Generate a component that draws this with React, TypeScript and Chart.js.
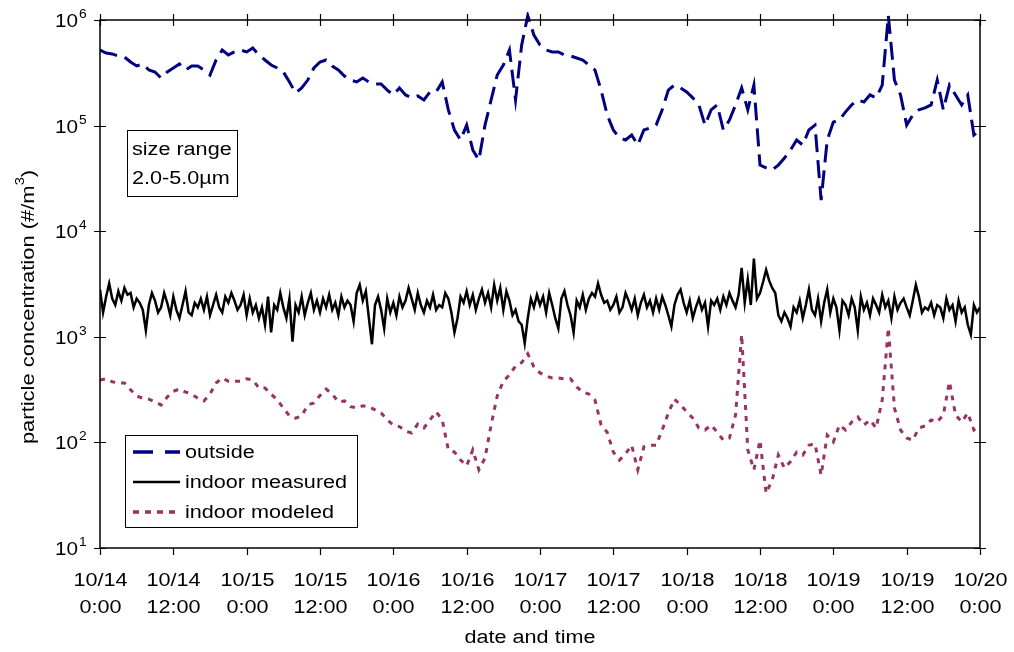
import React, { useEffect, useRef } from "react";
import { Chart, registerables } from "chart.js";

Chart.register(...registerables);

// hourly outside concentration (#/m3), 10/14 0:00 .. 10/20 0:00
const outside: number[] = [
  520000, 487000, 477000, 456000, 446000, 400000, 367000, 383000, 336000, 322000, 282000, 322000,
  351000, 383000, 336000, 367000, 367000, 336000, 301000, 418000, 520000, 467000, 498000, 520000,
  498000, 543000, 467000, 418000, 375000, 351000, 322000, 259000, 204000, 227000, 270000, 351000,
  400000, 418000, 367000, 336000, 295000, 270000, 259000, 282000, 259000, 248000, 248000, 217000,
  195000, 227000, 195000, 183000, 191000, 175000, 208000, 208000, 259000, 141000, 90800, 73100,
  101000, 58800, 47200, 101000, 175000, 301000, 375000, 520000, 175000, 580000, 1100000, 721000,
  580000, 520000, 498000, 498000, 467000, 456000, 437000, 418000, 375000, 336000, 217000, 126000,
  90800, 76300, 73100, 81500, 65500, 90800, 94900, 101000, 141000, 217000, 242000, 227000,
  208000, 183000, 157000, 101000, 141000, 157000, 90800, 113000, 157000, 227000, 141000, 242000,
  42300, 39700, 38000, 42300, 49300, 58800, 73100, 65500, 90800, 101000, 19700, 73100,
  108000, 113000, 135000, 157000, 175000, 167000, 195000, 183000, 242000, 1100000, 270000, 195000,
  101000, 126000, 141000, 147000, 157000, 270000, 141000, 242000, 195000, 157000, 195000, 81500,
  90800,
];

// half-hourly indoor measured concentration (#/m3)
const indoorMeasured: number[] = [
  2800, 1700, 2400, 3200, 2300, 2000, 2700, 2200, 2900, 2500, 2600, 1900, 2300, 2100, 1800, 1150, 2000, 2600, 2200, 1700, 1900, 2600, 2100, 1600,
  2400, 1800, 1500, 2000, 2700, 1700, 1600, 2100, 1900, 2300, 1800, 2400, 1600, 2000, 2500, 1900, 1700, 2400, 2100, 2600, 2200, 1800, 2000, 2500,
  1600, 2300, 1700, 2000, 1500, 1900, 1300, 2400, 1100, 2000, 1800, 2600, 1900, 1500, 2300, 900, 2000, 1700, 2400, 1600, 2100, 2600, 1800, 2200,
  1700, 2300, 1900, 2500, 1800, 2100, 1600, 2400, 1900, 2200, 2000, 1400, 2600, 3100, 2200, 2700, 1500, 850, 2000, 2400, 1800, 1200, 2300, 1700,
  2100, 1600, 2400, 1900, 2200, 2900, 2300, 1800, 2600, 2000, 1700, 2200, 1900, 2500, 1800, 2000, 1900, 2600, 2300, 1700, 1100, 1500, 2400, 2100,
  2700, 2000, 2500, 1800, 2300, 2800, 2100, 2600, 1900, 3100, 2200, 2900, 1800, 2700, 2200, 1600, 1800, 1400, 1300, 870, 1500, 2300, 1900, 2500,
  2000, 2400, 1700, 2600, 2000, 1500, 1200, 2300, 2700, 2000, 1600, 1100, 2200, 1900, 2500, 1800, 2300, 2600, 2400, 3200, 2500, 2100, 2200, 1800,
  2000, 2400, 1700, 1900, 2600, 2200, 1800, 2300, 1600, 2100, 2500, 1900, 2200, 1700, 2300, 1800, 2400, 2000, 1600, 1250, 2000, 2500, 2800, 2100,
  1700, 2200, 1500, 1900, 2300, 1800, 2100, 1250, 2200, 2000, 2300, 1800, 2400, 2000, 2600, 2200, 1900, 2500, 4500, 2100, 3500, 2000, 5500, 2300,
  2600, 3300, 4300, 3400, 2900, 2600, 1600, 1400, 1700, 1500, 1250, 1900, 1700, 2200, 1500, 2000, 2800, 1800, 1600, 2300, 1400, 2100, 2800, 1700,
  2300, 1900, 1150, 2200, 2000, 1600, 2300, 1900, 1150, 2400, 1800, 2100, 1600, 2300, 2000, 1700, 2500, 1900, 2200, 1500, 2400, 1800, 2100, 2300,
  1900, 1600, 2200, 3100, 2400, 1700, 1900, 1800, 2100, 1600, 2000, 1900, 1500, 2300, 1800, 2000, 1400, 2200, 1700, 1900, 1300, 1050, 2000, 1700,
  1900,
];

// hourly indoor modeled concentration (#/m3)
const indoorModeled: number[] = [
  390, 400, 375, 365, 365, 315, 275, 262, 257, 242, 226, 269,
  305, 320, 300, 287, 262, 247, 287, 365, 407, 380, 380, 380,
  400, 390, 327, 327, 287, 252, 212, 178, 170, 178, 226, 236,
  278, 320, 287, 242, 247, 218, 212, 222, 218, 203, 190, 163,
  146, 141, 128, 123, 149, 137, 163, 195, 163, 85, 81, 68,
  60, 85, 55, 71, 146, 275, 380, 435, 529, 570, 690, 520,
  455, 425, 407, 407, 400, 400, 335, 300, 287, 252, 146, 125,
  81, 68, 78, 94, 55, 91, 94, 94, 131, 190, 257, 226,
  195, 170, 137, 131, 146, 125, 105, 110, 182, 1050, 85, 55,
  105, 33, 44, 76, 57, 66, 81, 76, 94, 97, 49, 117,
  101, 146, 131, 156, 174, 146, 163, 137, 252, 1211, 212, 131,
  110, 105, 137, 143, 163, 156, 182, 375, 182, 156, 190, 131,
  146,
];

const seriesNames: string[] = ["outside", "indoor measured", "indoor modeled"];
const xTickHours: number[] = [0, 12, 24, 36, 48, 60, 72, 84, 96, 108, 120, 132, 144];
const xTickLabels: string[][] = [
  ["10/14", "0:00"], ["10/14", "12:00"], ["10/15", "0:00"], ["10/15", "12:00"],
  ["10/16", "0:00"], ["10/16", "12:00"], ["10/17", "0:00"], ["10/17", "12:00"],
  ["10/18", "0:00"], ["10/18", "12:00"], ["10/19", "0:00"], ["10/19", "12:00"],
  ["10/20", "0:00"],
];
const yTickExponents: number[] = [1, 2, 3, 4, 5, 6];
const sizeRangeLines: string[] = ["size range", "2.0-5.0\u00b5m"];

const FONT = "'Liberation Sans', Arial, sans-serif";
const NAVY = "#000080";
const MAROON = "#993366";
const SX = 1.2; // horizontal text stretch

function txt(ctx: any, s: string, x: number, y: number, align: string, size: number, sx = SX) {
  ctx.save();
  ctx.translate(x, y);
  ctx.scale(sx, 1);
  ctx.font = `${size}px ${FONT}`;
  ctx.textAlign = align;
  ctx.textBaseline = "middle";
  ctx.fillText(s, 0, 0);
  ctx.restore();
}

const decorPlugin = {
  id: "decor",
  afterDraw(chart: any) {
    const { ctx, chartArea } = chart;
    const { left, right, top, bottom } = chartArea;
    const xs = chart.scales.x;
    const ys = chart.scales.y;
    ctx.save();
    ctx.setLineDash([]);
    ctx.strokeStyle = "#000";
    ctx.lineWidth = 1.5;
    ctx.strokeRect(left, top, right - left, bottom - top);

    ctx.lineWidth = 1.2;
    ctx.fillStyle = "#000";
    // y ticks and labels
    yTickExponents.forEach((e) => {
      const py = Math.round(ys.getPixelForValue(Math.pow(10, e))) + 0.5;
      ctx.beginPath();
      ctx.moveTo(left - 6, py);
      ctx.lineTo(left + 6, py);
      ctx.moveTo(right - 6, py);
      ctx.lineTo(right + 6, py);
      ctx.stroke();
      txt(ctx, "10", 78, py + 2, "right", 18, 1.15);
      txt(ctx, String(e), 79, py - 6, "left", 12, 1.15);
    });
    // x ticks and labels
    xTickHours.forEach((h, i) => {
      const px = Math.round(xs.getPixelForValue(h)) + 0.5;
      ctx.beginPath();
      ctx.moveTo(px, bottom);
      ctx.lineTo(px, bottom + 7);
      ctx.moveTo(px, top - 6);
      ctx.lineTo(px, top + 6);
      ctx.stroke();
      txt(ctx, xTickLabels[i][0], px, 581, "center", 18);
      txt(ctx, xTickLabels[i][1], px, 608, "center", 18);
    });
    // axis titles
    txt(ctx, "date and time", 530, 638, "center", 18);

    ctx.save();
    ctx.translate(29, 307);
    ctx.rotate(-Math.PI / 2);
    ctx.scale(1.22, 1);
    const main = "particle concentration (#/m";
    const sup = "3";
    const close = ")";
    ctx.font = `18px ${FONT}`;
    const wMain = ctx.measureText(main).width;
    const wClose = ctx.measureText(close).width;
    ctx.font = `12px ${FONT}`;
    const wSup = ctx.measureText(sup).width;
    const total = wMain + wSup + wClose;
    let cx = -total / 2;
    ctx.textAlign = "left";
    ctx.textBaseline = "middle";
    ctx.font = `18px ${FONT}`;
    ctx.fillText(main, cx, 0);
    cx += wMain;
    ctx.font = `12px ${FONT}`;
    ctx.fillText(sup, cx, -8);
    cx += wSup;
    ctx.font = `18px ${FONT}`;
    ctx.fillText(close, cx, 0);
    ctx.restore();

    // size range box
    ctx.fillStyle = "#fff";
    ctx.fillRect(127, 130, 110, 66);
    ctx.lineWidth = 1;
    ctx.strokeRect(127.5, 130.5, 110, 66);
    ctx.fillStyle = "#000";
    txt(ctx, sizeRangeLines[0], 132, 150, "left", 18);
    txt(ctx, sizeRangeLines[1], 132, 179, "left", 18);

    // legend box
    ctx.fillStyle = "#fff";
    ctx.fillRect(125, 435, 232, 92);
    ctx.strokeRect(125.5, 435.5, 232, 92);
    const rows = [
      { color: NAVY, dash: [20, 12], width: 3.5, y: 452 },
      { color: "#000", dash: [], width: 2.5, y: 482 },
      { color: MAROON, dash: [6, 6], width: 3.5, y: 512 },
    ];
    rows.forEach((r, i) => {
      ctx.beginPath();
      ctx.setLineDash(r.dash);
      ctx.strokeStyle = r.color;
      ctx.lineWidth = r.width;
      ctx.moveTo(133, r.y);
      ctx.lineTo(180, r.y);
      ctx.stroke();
      ctx.setLineDash([]);
      ctx.fillStyle = "#000";
      txt(ctx, seriesNames[i], 185, r.y + 1, "left", 18);
    });
    ctx.restore();
  },
};

export default function App() {
  const ref = useRef<HTMLCanvasElement | null>(null);
  useEffect(() => {
    if (!ref.current) return;
    const chart = new Chart(ref.current, {
      type: "line",
      data: {
        datasets: [
          {
            label: seriesNames[0],
            data: outside.map((v, i) => ({ x: i, y: v })),
            borderColor: NAVY,
            borderWidth: 3,
            borderDash: [18, 8],
            pointRadius: 0,
            tension: 0,
            clip: { left: 0, top: 8, right: 0, bottom: 0 },
          } as any,
          {
            label: seriesNames[1],
            data: indoorMeasured.map((v, i) => ({ x: i * 0.5, y: v })),
            borderColor: "#000",
            borderWidth: 2.5,
            pointRadius: 0,
            tension: 0,
          },
          {
            label: seriesNames[2],
            data: indoorModeled.map((v, i) => ({ x: i, y: v })),
            borderColor: MAROON,
            borderWidth: 3,
            borderDash: [5, 6],
            pointRadius: 0,
            tension: 0,
          },
        ],
      },
      options: {
        animation: false,
        responsive: false,
        devicePixelRatio: 1,
        layout: { padding: { left: 100, right: 34, top: 20, bottom: 104 } },
        plugins: { legend: { display: false }, tooltip: { enabled: false } },
        scales: {
          x: { type: "linear", min: 0, max: 144, display: false },
          y: { type: "logarithmic", min: 10, max: 1000000, display: false },
        },
      },
      plugins: [decorPlugin],
    });
    return () => chart.destroy();
  }, []);
  return (
    <div style={{ position: "absolute", left: 0, top: 0, width: 1014, height: 652, background: "#fff" }}>
      <canvas ref={ref} width={1014} height={652} />
    </div>
  );
}
